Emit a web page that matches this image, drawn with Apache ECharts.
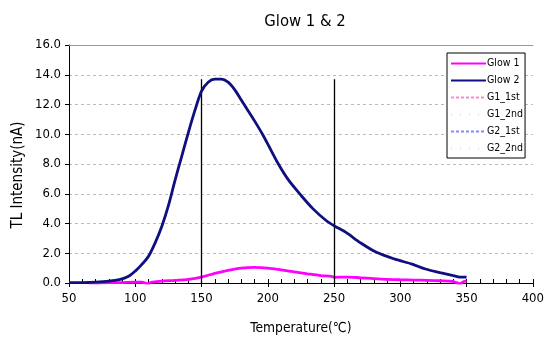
<!DOCTYPE html>
<html><head><meta charset="utf-8">
<script src="https://cdn.jsdelivr.net/npm/echarts@6/dist/echarts.min.js"></script>
<style>html,body{margin:0;padding:0;background:#fff}#c{width:547px;height:340px}</style>
</head><body><div id="c"></div>
<script>
var title = 'Glow 1 & 2';
var xName = 'Temperature(℃)';
var yName = 'TL Intensity(nA)';
var legendNames = ['Glow 1','Glow 2','G1_1st','G1_2nd','G2_1st','G2_2nd'];

var glow2T = [50,60,70,80,88,95,100,105,110,115,120,125,130,135,140,145,150,155,160,165,170,175,180,185,190,196,202,208,215,225,234,244,250,259,270,282,296,309,319,330,340,345,350];
var glow2V = [0.02,0.03,0.06,0.12,0.22,0.45,0.8,1.25,1.8,2.7,3.8,5.2,6.9,8.5,10.1,11.6,12.9,13.5,13.7,13.7,13.5,13.0,12.3,11.6,10.9,10.0,9.0,8.0,7.0,5.9,5.0,4.2,3.85,3.4,2.7,2.06,1.6,1.27,0.94,0.7,0.5,0.4,0.4];

var glow1T = [65,70,80,90,100,105,110,112,120,130,140,150,160,170,180,190,200,210,220,230,240,248,250,260,270,280,290,300,310,320,330,340,345,348,350];
var glow1V = [0.0,0.0,0.02,0.03,0.05,0.05,-0.05,0.05,0.12,0.18,0.25,0.4,0.65,0.85,1.0,1.05,1.0,0.88,0.75,0.62,0.5,0.45,0.38,0.4,0.35,0.3,0.25,0.22,0.2,0.18,0.15,0.1,-0.05,0.1,0.15];

var markerX = [150, 250];
var markerTop = 13.7;

function pairs(t, v){ return t.map(function(x,i){ return [x, v[i]]; }); }

var chart = echarts.init(document.getElementById('c'));
var font = '"DejaVu Sans Condensed", "DejaVu Sans", sans-serif';
var clear = {color:'rgba(0,0,0,0)'};
chart.setOption({
  animation:false,
  backgroundColor:'#fff',
  title:{text:title,left:300,textAlign:'center',top:8,textStyle:{fontFamily:font,fontSize:16.5,fontWeight:'normal',color:'#000'}},
  grid:{left:69,right:8,top:45,bottom:56},
  graphic:[{type:'text',x:18,y:175,rotation:Math.PI/2,
    style:{text:yName,fontFamily:font,fontSize:15,fill:'#000',align:'center',verticalAlign:'middle'}}],
  legend:{
    data:legendNames, orient:'vertical', left:447, top:53,
    padding:[5,2,4,3], itemGap:6, itemWidth:35, itemHeight:11,
    borderColor:'#000', borderWidth:1, backgroundColor:'#fff',
    textStyle:{fontFamily:font,fontSize:10.5,color:'#000',padding:[0,0,0,-4]}
  },
  xAxis:[{
    type:'value', min:50, max:400, interval:50,
    name:xName, nameLocation:'middle', nameGap:38,
    nameTextStyle:{fontFamily:font,fontSize:13.7,color:'#000'},
    axisLine:{show:true,onZero:false,lineStyle:{color:'#000',width:1}},
    axisTick:{show:true,length:4,lineStyle:{color:'#000'}},
    axisLabel:{fontFamily:font,fontSize:13,color:'#000',margin:9},
    splitLine:{show:false}
  },{
    type:'value', min:50, max:400, interval:10, position:'bottom',
    axisLine:{show:false}, axisLabel:{show:false},
    axisTick:{show:true,inside:true,length:4,lineStyle:{color:'#000'}},
    splitLine:{show:false}
  },{
    type:'value', min:50, max:400, position:'top',
    axisLine:{show:true,lineStyle:{color:'#999'}}, axisLabel:{show:false},
    axisTick:{show:false}, splitLine:{show:false}
  }],
  yAxis:{
    type:'value', min:0, max:16, interval:2,
    axisLine:{show:true,lineStyle:{color:'#000'}},
    axisTick:{show:true,length:4,lineStyle:{color:'#000'}},
    axisLabel:{fontFamily:font,fontSize:13,color:'#000',margin:8,formatter:function(v){return v.toFixed(1);}},
    splitLine:{show:true,lineStyle:{color:'#bbb',type:[3,3],width:1}}
  },
  series:[
    {name:'Glow 1',type:'line',data:pairs(glow1T,glow1V),symbol:'none',smooth:0.3,z:4,
     lineStyle:{color:'#ff00ff',width:2.8},itemStyle:clear},
    {name:'Glow 2',type:'line',data:pairs(glow2T,glow2V),symbol:'none',smooth:0.3,z:5,
     lineStyle:{color:'#0f0f80',width:2.8},itemStyle:clear,
     markLine:{silent:true,symbol:'none',label:{show:false},
       lineStyle:{color:'#000',width:1.3,type:'solid'},
       data:markerX.map(function(x){return [{coord:[x,0]},{coord:[x,markerTop]}];})}},
    {name:'G1_1st',type:'line',data:[],symbol:'none',lineStyle:{color:'#ff88cc',width:1,type:[3,2]},itemStyle:clear},
    {name:'G1_2nd',type:'line',data:[],symbol:'none',lineStyle:{color:'#e0e0e0',width:1,type:[1,8]},itemStyle:clear},
    {name:'G2_1st',type:'line',data:[],symbol:'none',lineStyle:{color:'#8888ff',width:1,type:[3,2]},itemStyle:clear},
    {name:'G2_2nd',type:'line',data:[],symbol:'none',lineStyle:{color:'#e0e0e0',width:1,type:[1,8]},itemStyle:clear}
  ]
});
</script></body></html>
